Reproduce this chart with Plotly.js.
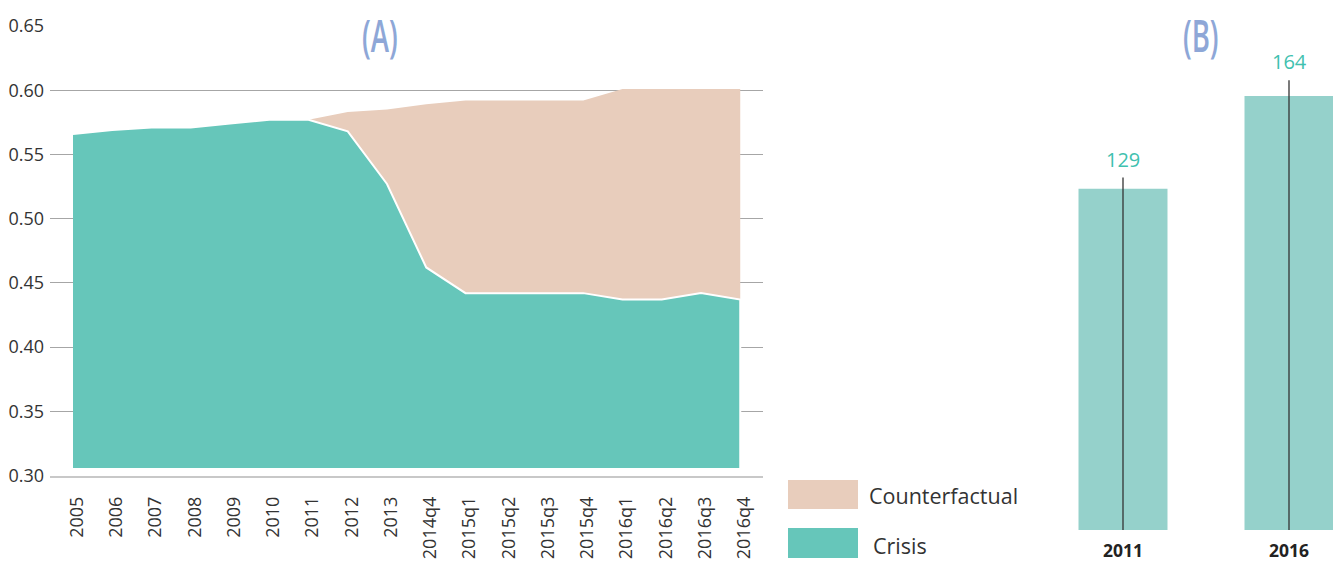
<!DOCTYPE html>
<html>
<head>
<meta charset="utf-8">
<script src="https://cdn.plot.ly/plotly-3.0.1.min.js"></script>
<style>html,body{margin:0;padding:0;background:#fff;}#chart{width:1333px;height:563px;}</style>
</head>
<body>
<div id="chart"></div>
<script>
// ---- Data (panel A) ----
const periods = ["2005","2006","2007","2008","2009","2010","2011","2012","2013","2014q4","2015q1","2015q2","2015q3","2015q4","2016q1","2016q2","2016q3","2016q4"];
const crisis = [0.566,0.569,0.571,0.571,0.574,0.577,0.577,0.568,0.527,0.462,0.442,0.442,0.442,0.442,0.437,0.437,0.442,0.437];
const counterfactual = [null,null,null,null,null,null,0.577,0.583,0.585,0.589,0.592,0.592,0.592,0.592,0.601,0.601,0.601,0.601];
const areaBase = 0.305;
const seriesNames = ["Counterfactual","Crisis"];
const yTicks = [0.30,0.35,0.40,0.45,0.50,0.55,0.60,0.65];

// ---- Data (panel B) ----
const years = ["2011","2016"];
const counts = [129,164];
const errUp = [4.2,6.0];

const titles = ["(A)","(B)"];

// ---- Colours ----
const cCrisis = "#66c6ba", cCounter = "#e8cdbc", cBar = "#95d1cb", cTitle = "#8ea7d7", cLabel = "#3fc1af";

// crisis polygon
const crisisX = periods.concat([periods[periods.length-1], periods[0]]);
const crisisY = crisis.concat([areaBase, areaBase]);
// counterfactual polygon (between counterfactual and crisis)
const idx = periods.map((p,i)=>i).filter(i=>counterfactual[i]!==null);
const cfX = idx.map(i=>periods[i]).concat(idx.slice().reverse().map(i=>periods[i]));
const cfY = idx.map(i=>counterfactual[i]).concat(idx.slice().reverse().map(i=>crisis[i]));

const traces = [
  {x: cfX, y: cfY, type:"scatter", mode:"lines", fill:"toself", fillcolor:cCounter,
   line:{width:0, color:cCounter}, name:seriesNames[0], hoverinfo:"skip", xaxis:"x", yaxis:"y"},
  {x: crisisX, y: crisisY, type:"scatter", mode:"lines", fill:"toself", fillcolor:cCrisis,
   line:{width:2, color:"#ffffff"}, name:seriesNames[1], hoverinfo:"skip", xaxis:"x", yaxis:"y"},
  {x: years, y: counts, type:"bar", marker:{color:cBar}, width:0.536, xaxis:"x2", yaxis:"y2",
   error_y:{type:"data", symmetric:false, array:errUp, arrayminus:counts, color:"#333333", thickness:1.3, width:0}}
];

const L = 50, T = 20, W = 1283, H = 518;
const PX = x => (x - L) / W;
const PY = y => (T + H - y) / H;

const titleFont = {family:"Open Sans, sans-serif", size:46, color:cTitle, weight:600};
const annotations = [
  {text:titles[0], xref:"paper", yref:"paper", x:PX(380), y:PY(34), xanchor:"center", yanchor:"middle", showarrow:false, borderpad:0, font:titleFont},
  {text:titles[1], xref:"paper", yref:"paper", x:PX(1200), y:PY(34), xanchor:"center", yanchor:"middle", showarrow:false, borderpad:0, font:titleFont},
  {text:seriesNames[0], xref:"paper", yref:"paper", x:PX(867), y:PY(495), xanchor:"left", yanchor:"middle", showarrow:false,
   font:{family:"Open Sans, sans-serif", size:21.5, color:"#333333"}},
  {text:seriesNames[1], xref:"paper", yref:"paper", x:PX(871), y:PY(545), xanchor:"left", yanchor:"middle", showarrow:false,
   font:{family:"Open Sans, sans-serif", size:21.5, color:"#333333"}}
];
years.forEach((yr,i)=>{
  // category coordinate given as index so "2011" is not read as a number
  annotations.push({text:String(counts[i]), x:i, y:counts[i]+errUp[i], xref:"x2", yref:"y2",
    xanchor:"center", yanchor:"bottom", yshift:3, showarrow:false,
    font:{family:"Open Sans, sans-serif", size:20, color:cLabel}});
});

const shapes = [
  {type:"rect", xref:"paper", yref:"paper", x0:PX(788), x1:PX(858), y0:PY(509), y1:PY(480), fillcolor:cCounter, line:{width:0}},
  {type:"rect", xref:"paper", yref:"paper", x0:PX(788), x1:PX(858), y0:PY(558), y1:PY(528), fillcolor:cCrisis, line:{width:0}}
];

const s = 39.25, x0px = 73;
const layout = {
  width:1333, height:563,
  margin:{l:L, r:0, t:T, b:25},
  paper_bgcolor:"#ffffff", plot_bgcolor:"rgba(0,0,0,0)",
  showlegend:false,
  font:{family:"Open Sans, sans-serif", color:"#333333"},
  xaxis:{domain:[0, PX(763)], type:"category", categoryarray:periods, categoryorder:"array",
    range:[(50-x0px)/s, (763-x0px)/s], tickangle:-90, tickfont:{size:18, color:"#333333"},
    showgrid:false, showline:true, linecolor:"#c8c8c8", linewidth:2, ticks:"", zeroline:false,
    ticklabelstandoff:12, ticklabelshift:4, fixedrange:true},
  yaxis:{domain:[PY(475.5), PY(26)], range:[0.30,0.65], tickvals:yTicks, tickformat:".2f",
    tickfont:{size:18, color:"#333333"}, showgrid:true, gridcolor:"#a6a6a6", gridwidth:1,
    zeroline:false, showline:false, ticks:"", ticklabelstandoff:5, fixedrange:true},
  xaxis2:{domain:[PX(1000), 1], anchor:"y2", type:"category", categoryarray:years,
    range:[(1000-1123)/166, (1333-1123)/166], showgrid:false, showline:false, ticks:"", zeroline:false,
    tickfont:{size:17.5, color:"#222222", weight:"bold"}, ticklabelstandoff:8, fixedrange:true},
  yaxis2:{domain:[PY(530), PY(26)], anchor:"x2", range:[0, (530-26)/2.646], showgrid:false, showline:false,
    zeroline:false, showticklabels:false, ticks:"", fixedrange:true},
  annotations:annotations,
  shapes:shapes
};

Plotly.newPlot("chart", traces, layout, {displayModeBar:false, staticPlot:true}).then(gd=>{
  // condense the panel titles horizontally to resemble the narrow display face of the original
  const texts = gd.querySelectorAll(".annotation-text");
  [0,1].forEach(i=>{
    const t = texts[i];
    if(!t) return;
    t.style.transformBox = "fill-box";
    t.style.transformOrigin = "center";
    t.style.transform = "scale(0.6,1)";
  });
});
</script>
</body>
</html>
